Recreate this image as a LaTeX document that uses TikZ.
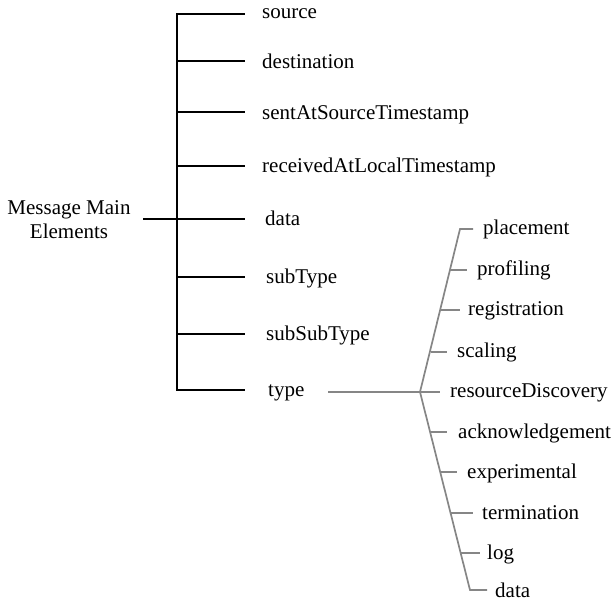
\documentclass[tikz,border=0pt]{standalone}
\usepackage{fontspec}
\setmainfont{Liberation Serif}
\begin{document}
\begin{tikzpicture}[x=1pt,y=-1pt,
  lbl/.style={anchor=base west,inner sep=0pt,font=\fontsize{21}{24}\selectfont},
  blk/.style={draw=black,line width=1.8pt},
  gry/.style={draw=gray!95,line width=1.7pt}]
\useasboundingbox (0,0) rectangle (613,601);
% root
\node[align=center,inner sep=0pt,font=\fontsize{21}{24}\selectfont] (root) at (69,220) {Message Main\\Elements};
\coordinate (rootend) at (143,219);
% main spine
\coordinate (mtop) at (177,14);
\coordinate (mbot) at (177,390);
\coordinate (mroot) at (177,219);
\draw[blk] (rootend) -- (mroot);
\draw[blk,line cap=rect] (mtop) -- (mbot);
% main children
\foreach \nm/\txt/\yy/\bl/\lx in {
  source/source/14/19/262,
  destination/destination/61/69/262,
  sent/sentAtSourceTimestamp/112/120/262,
  recv/receivedAtLocalTimestamp/166/173/262,
  mdata/data/219/226/265,
  sub/subType/277/284/266,
  subsub/subSubType/334/341/266,
  type/type/390/396/268}{
  \coordinate (s-\nm) at (177,\yy);
  \coordinate (e-\nm) at (245,\yy);
  \draw[blk] (s-\nm) -- (e-\nm);
  \node[lbl] (\nm) at (\lx,\bl) {\txt};
}
% type subtree
\coordinate (tstart) at (328,392);
\coordinate (tjoin) at (420,392);
\coordinate (ttop) at (460,229);
\coordinate (ttopend) at (473,229);
\coordinate (tbot) at (470,590);
\coordinate (tbotend) at (487,590);
\draw[gry] (tstart) -- (tjoin);
\draw[gry] (ttopend) -- (ttop) -- (tjoin) -- (tbot) -- (tbotend);
\node[lbl] (placement) at (483,235) {placement};
\node[lbl] (tdata) at (495,597) {data};
\foreach \nm/\txt/\yy/\sx/\ex/\lx in {
  profiling/profiling/270/450/467/477,
  registration/registration/310/441/460/468,
  scaling/scaling/352/431/447/457,
  resdisc/resourceDiscovery/392/420/440/450,
  ack/acknowledgement/432/430/447/458,
  exper/experimental/472/440/457/467,
  term/termination/513/451/473/482,
  log/log/553/461/480/487}{
  \coordinate (ts-\nm) at (\sx,\yy);
  \coordinate (te-\nm) at (\ex,\yy);
  \draw[gry] (ts-\nm) -- (te-\nm);
  \node[lbl] (\nm) at (\lx,\yy+6) {\txt};
}
\end{tikzpicture}
\end{document}
